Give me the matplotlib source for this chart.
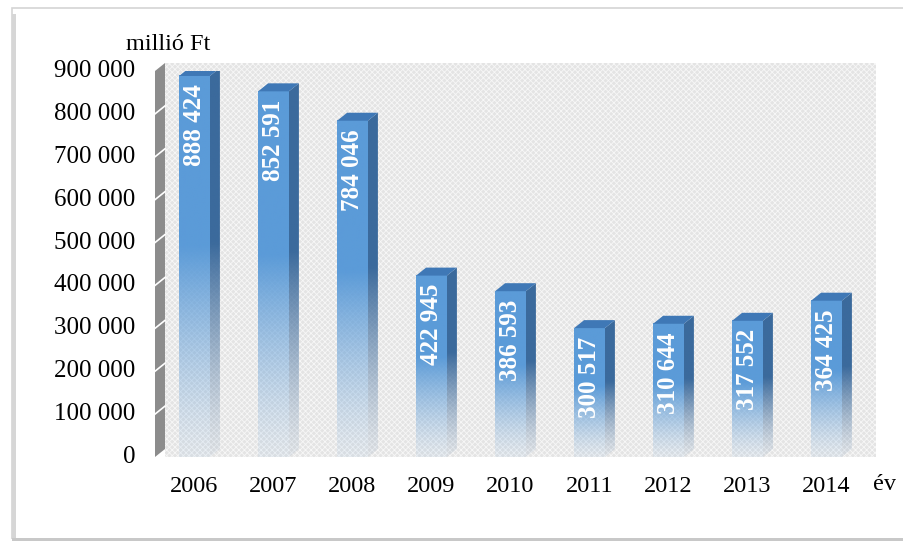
import numpy as np
import matplotlib
matplotlib.use("Agg")
import matplotlib.pyplot as plt
from matplotlib.patches import Polygon, Rectangle
from matplotlib.colors import to_rgb

# adatok
evek = ["2006", "2007", "2008", "2009", "2010", "2011", "2012", "2013", "2014"]
ertekek = [888424, 852591, 784046, 422945, 386593, 300517, 310644, 317552, 364425]
y_tickek = [0, 100000, 200000, 300000, 400000, 500000, 600000, 700000, 800000, 900000]

W, H, DPI = 904, 545, 100
plt.rcParams["font.family"] = ["Liberation Serif", "DejaVu Serif"]
plt.rcParams["hatch.linewidth"] = 0.6

fig = plt.figure(figsize=(W / DPI, H / DPI), dpi=DPI)

# külső keret árnyékkal
fig.patches.append(Rectangle((12 / W, 6 / H), 900 / W, 531 / H, transform=fig.transFigure,
                             fill=False, edgecolor="#d4d4d4", lw=1.2))
fig.patches.append(Rectangle((12 / W, 6 / H), 4 / W, 525 / H, transform=fig.transFigure,
                             facecolor="#d6d6d6", edgecolor="none"))
fig.patches.append(Rectangle((12 / W, 4 / H), 892 / W, 3 / H, transform=fig.transFigure,
                             facecolor="#c8c8c8", edgecolor="none"))

# elülső sík pixelben
ax_x0, ax_x1 = 155, 866
ax_y0, ax_y1 = H - 457, H - 71
ax = fig.add_axes([ax_x0 / W, ax_y0 / H, (ax_x1 - ax_x0) / W, (ax_y1 - ax_y0) / H])
ax.set_xlim(-0.5, len(evek) - 0.5)
ax.set_ylim(0, 900000)
ax.axis("off")

# mélység pixelben -> adategység
DX_PX, DY_PX = 10, 8
dx = DX_PX * len(evek) / (ax_x1 - ax_x0)
dy = DY_PX * 900000 / (ax_y1 - ax_y0)

# hátsó fal
ymax_fal = 900000
jobb = len(evek) - 0.5 + dx
fal = Polygon([(-0.5 + dx, 0), (jobb, 0), (jobb, ymax_fal + dy), (-0.5 + dx, ymax_fal + dy)],
              closed=True, facecolor="#e4e4e4", edgecolor="#f7f7f7", hatch="xxxxxx",
              lw=0, clip_on=False, zorder=0)
ax.add_patch(fal)

# bal oldalfal
bal = Polygon([(-0.5, 0), (-0.5 + dx, dy), (-0.5 + dx, ymax_fal + dy), (-0.5, ymax_fal)],
              closed=True, facecolor="#8c8c8c", edgecolor="none", clip_on=False, zorder=1)
ax.add_patch(bal)
for t in y_tickek[1:-1]:
    ax.plot([-0.5, -0.5 + dx], [t, t + dy], color="white", lw=1.2, clip_on=False, zorder=1.5)

szel = 0.39
elo = np.array(to_rgb("#5b9bd8"))
oldal = np.array(to_rgb("#3b6a9c"))
teto = np.array(to_rgb("#3f78b6"))


def gradiens(szin, n=200):
    # felül tömör, alul fehérbe fakul
    t = np.linspace(0, 1, n)[:, None]          # 0 = alul, 1 = felül
    a = np.clip(t / 0.55, 0, 1)
    a = 0.08 + 0.92 * a ** 1.3
    img = np.zeros((n, 1, 4))
    img[..., :3] = szin
    img[..., 3] = a
    return img[::-1]


for i, v in enumerate(ertekek):
    x0, x1 = i - szel / 2, i + szel / 2
    # elülső lap
    ax.imshow(gradiens(elo), extent=[x0, x1, 0, v], aspect="auto",
              interpolation="bilinear", zorder=3)
    # oldallap
    p_old = Polygon([(x1, 0), (x1 + dx, dy), (x1 + dx, v + dy), (x1, v)], closed=True,
                    facecolor="none", edgecolor="none")
    ax.add_patch(p_old)
    im = ax.imshow(gradiens(oldal), extent=[x1, x1 + dx, 0, v + dy], aspect="auto",
                   interpolation="bilinear", zorder=3)
    im.set_clip_path(p_old)
    # tetőlap
    ax.add_patch(Polygon([(x0, v), (x1, v), (x1 + dx, v + dy), (x0 + dx, v + dy)],
                         closed=True, facecolor=teto, edgecolor="none", zorder=3))
    # érték felirat
    felirat = f"{v:,}".replace(",", " ")
    ax.annotate(felirat, (i, v), xytext=(0, -6), textcoords="offset points",
                rotation=90, ha="center", va="top", color="white",
                fontsize=18, fontweight="bold", zorder=5)

ax.set_xlim(-0.5, len(evek) - 0.5)
ax.set_ylim(0, 900000)

# tengelyfeliratok
for t in y_tickek:
    ax.text(-0.75, t, f"{t:,}".replace(",", " "), ha="right", va="center",
            fontsize=18, clip_on=False)
for i, e in enumerate(evek):
    ax.text(i, -68000, e, ha="center", va="center", fontsize=17.5, clip_on=False)

fig.text(168 / W, 1 - 44 / H, "millió Ft", ha="center", va="center", fontsize=17.5)
fig.text(885 / W, 1 - 485 / H, "év", ha="center", va="center", fontsize=17.5)

fig.savefig("out.png", dpi=DPI)
